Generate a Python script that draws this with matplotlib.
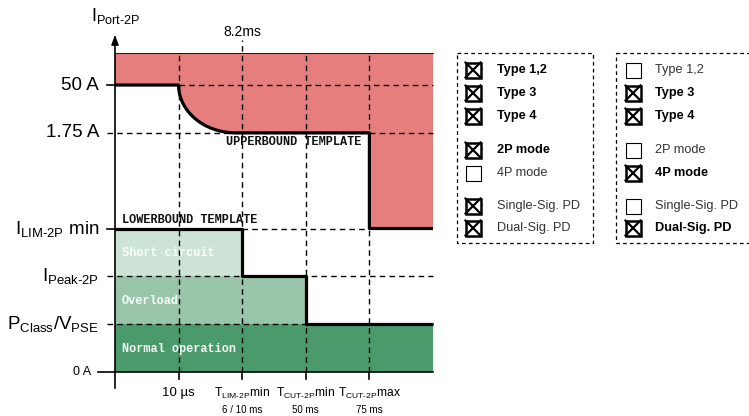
import numpy as np
import matplotlib
matplotlib.use("Agg")
import matplotlib.pyplot as plt
from matplotlib.patches import Rectangle, Polygon

plt.rcParams['font.family'] = ['Liberation Sans', 'DejaVu Sans']
plt.rcParams['mathtext.fontset'] = 'custom'
plt.rcParams['mathtext.rm'] = 'Liberation Sans'
plt.rcParams['mathtext.it'] = 'Liberation Sans:italic'
plt.rcParams['mathtext.bf'] = 'Liberation Sans:bold'

# ---------------- data ----------------
HY = '\u2010'
# time axis (categorical, equally spaced positions)
time_pos = [1, 2, 3, 4]
time_labels = ['10 µs',
               r'$\mathrm{T_{LIM' + HY + '2P}}$min',
               r'$\mathrm{T_{CUT' + HY + '2P}}$min',
               r'$\mathrm{T_{CUT' + HY + '2P}}$max']
time_sublabels = ['', '6 / 10 ms', '50 ms', '75 ms']
x_end = 5
marker_time_pos = 2
marker_time_label = '8.2ms'

# current axis (categorical levels)
level_pos = [0, 1, 2, 3, 5, 6]
level_labels = ['0 A',
                r'$\mathrm{P_{Class}/V_{PSE}}$',
                r'$\mathrm{I_{Peak' + HY + '2P}}$',
                r'$\mathrm{I_{LIM' + HY + '2P}}$ min',
                '1.75 A',
                '50 A']
y_top = 6.67

# upper-bound template: 50 A until 10 µs, decay to 1.75 A, step to ILIM at TCUT max
upper_x = [0, 1]
upper_y = [6, 6]
knee_end_x = 1.9
upper_tail_x = [4, 4, 5]
upper_tail_y = [5, 3, 3]

# lower-bound template
lower_x = [0, 2, 2, 3, 3, 5]
lower_y = [3, 3, 2, 2, 1, 1]

# operating regions: (name, x_end, y_low, y_high, colour)
regions = [('Short circuit', 2, 2, 3, '#cde3d5'),
           ('Overload', 3, 1, 2, '#99c6ab'),
           ('Normal operation', 5, 0, 1, '#4a9a6b')]

# legend contents
legend_items = ['Type 1,2', 'Type 3', 'Type 4', '2P mode', '4P mode',
                'Single-Sig. PD', 'Dual-Sig. PD']
legend1_checked = [1, 1, 1, 1, 0, 1, 1]
legend1_bold = [1, 1, 1, 1, 0, 0, 0]
legend2_checked = [0, 1, 1, 0, 1, 0, 1]
legend2_bold = [0, 1, 1, 0, 1, 0, 1]

# ---------------- figure ----------------
W, H = 749, 416
fig = plt.figure(figsize=(W / 100, H / 100), dpi=100)
ax = fig.add_axes([0, 0, 1, 1])
x0px, xs = 115, 63.6
y0px, ys = 372, 47.83
ax.set_xlim(-x0px / xs, (W - x0px) / xs)
ax.set_ylim(-(H - y0px) / ys, y0px / ys)
ax.axis('off')

def px2x(p):
    return (p - x0px) / xs

def py2y(p):
    return (y0px - p) / ys

# upper curve (quarter ellipse knee)
th = np.linspace(np.pi, 1.5 * np.pi, 60)
a = knee_end_x - upper_x[-1]
curve_x = knee_end_x + a * np.cos(th)
curve_y = upper_y[-1] + (upper_y[-1] - upper_tail_y[0]) * np.sin(th)
ux = np.concatenate([upper_x, curve_x, upper_tail_x])
uy = np.concatenate([upper_y, curve_y, upper_tail_y])

# red forbidden region
poly = np.column_stack([np.concatenate([ux, [x_end, 0]]),
                        np.concatenate([uy, [y_top, y_top]])])
ax.add_patch(Polygon(poly, closed=True, facecolor='#e67e7e', edgecolor='none', zorder=1))
ax.plot([0, x_end], [y_top, y_top], color='black', lw=0.6, zorder=2)

# green regions
for name, xe, yl, yh, col in regions:
    ax.add_patch(Rectangle((0, yl), xe, yh - yl, facecolor=col, edgecolor='none', zorder=1))

# dashed grid
dash = dict(color='black', lw=1.0, linestyle=(0, (4, 3)), zorder=3)
tick_len = 8 / xs
for x in time_pos:
    top = py2y(40) if x == marker_time_pos else y_top
    ax.plot([x, x], [0, top], **dash)
    ax.plot([x, x], [0, py2y(379)], color='black', lw=1.2, zorder=3)
ax.plot([1, x_end], [6, 6], **dash)
for y in [5, 2, 1]:
    ax.plot([-tick_len, x_end], [y, y], **dash)
ax.plot([2, 4], [3, 3], **dash)
for y in [6, 3]:
    ax.plot([-tick_len, 0], [y, y], color='black', lw=1.2, zorder=3)

# axes
ax.plot([px2x(98), x_end], [0, 0], color='black', lw=1.2, zorder=4)
ax.plot([0, 0], [py2y(388), py2y(40)], color='black', lw=1.2, zorder=4)
ax.annotate('', xy=(0, py2y(32)), xytext=(0, py2y(45)),
            arrowprops=dict(arrowstyle='-|>,head_length=0.6,head_width=0.22',
                            color='black', lw=1.0), zorder=5)

# templates
ax.plot(ux, uy, color='black', lw=2.3, zorder=5, solid_capstyle='butt')
ax.plot(lower_x, lower_y, color='black', lw=2.3, zorder=5, solid_capstyle='butt')

# template labels
mono = dict(family='Liberation Mono', weight='bold', fontsize=8.6)
ax.text(px2x(226), py2y(142), 'UPPERBOUND TEMPLATE', ha='left', va='center',
        color='#111111', zorder=6, **mono)
ax.text(px2x(122), py2y(220), 'LOWERBOUND TEMPLATE', ha='left', va='center',
        color='#111111', zorder=6, **mono)
for name, xe, yl, yh, col in regions:
    ax.text(px2x(122), (yl + yh) / 2 - 0.02, name, ha='left', va='center',
            color='white', alpha=0.92, zorder=6, **mono)

# y labels
for y, lab in zip(level_pos, level_labels):
    if y == 0:
        ax.text(px2x(91), y, lab, ha='right', va='center', fontsize=9)
    else:
        ax.text(px2x(99), y, lab, ha='right', va='center', fontsize=13.5)
ax.text(px2x(91), py2y(21), r'$\mathrm{I_{Port' + HY + '2P}}$', ha='left',
        va='baseline', fontsize=13)

# x labels
for x, lab, sub in zip(time_pos, time_labels, time_sublabels):
    fs = 9.5 if not sub else 8.7
    ax.text(x, py2y(393), lab, ha='center', va='center', fontsize=fs)
    if sub:
        ax.text(x, py2y(410), sub, ha='center', va='center', fontsize=7)
ax.text(marker_time_pos, py2y(32), marker_time_label, ha='center', va='center',
        fontsize=10)

# legends
def fx(p):
    return p / W

def fy(p):
    return 1 - p / H

row_py = [70, 93, 116, 150, 173, 206, 228]

def draw_legend(left, right, cb_cx, text_x, checked, bold):
    xs_ = [left, right, right, left, left]
    ys_ = [53, 53, 243, 243, 53]
    fig.add_artist(plt.Line2D([fx(v) for v in xs_], [fy(v) for v in ys_],
                              color='black', lw=0.9, linestyle=(0, (3, 2.5))))
    s = 15
    for py, lab, c, b in zip(row_py, legend_items, checked, bold):
        x1, x2 = cb_cx - s / 2, cb_cx + s / 2
        y1, y2 = py - s / 2, py + s / 2
        lw = 1.8 if c else 0.8
        fig.add_artist(Rectangle((fx(x1), fy(y2)), fx(s), s / H, transform=fig.transFigure,
                                 facecolor='white', edgecolor='black', lw=lw))
        if c:
            fig.add_artist(plt.Line2D([fx(x1), fx(x2)], [fy(y1), fy(y2)], color='black', lw=1.6))
            fig.add_artist(plt.Line2D([fx(x1), fx(x2)], [fy(y2), fy(y1)], color='black', lw=1.6))
        fig.text(fx(text_x), fy(py), lab, ha='left', va='center', fontsize=9.2,
                 weight='bold' if b else 'normal',
                 color='black' if b else '#333333')

draw_legend(457, 593, 473, 497, legend1_checked, legend1_bold)
draw_legend(616, 760, 633, 655, legend2_checked, legend2_bold)

fig.savefig('out.png', dpi=100)
